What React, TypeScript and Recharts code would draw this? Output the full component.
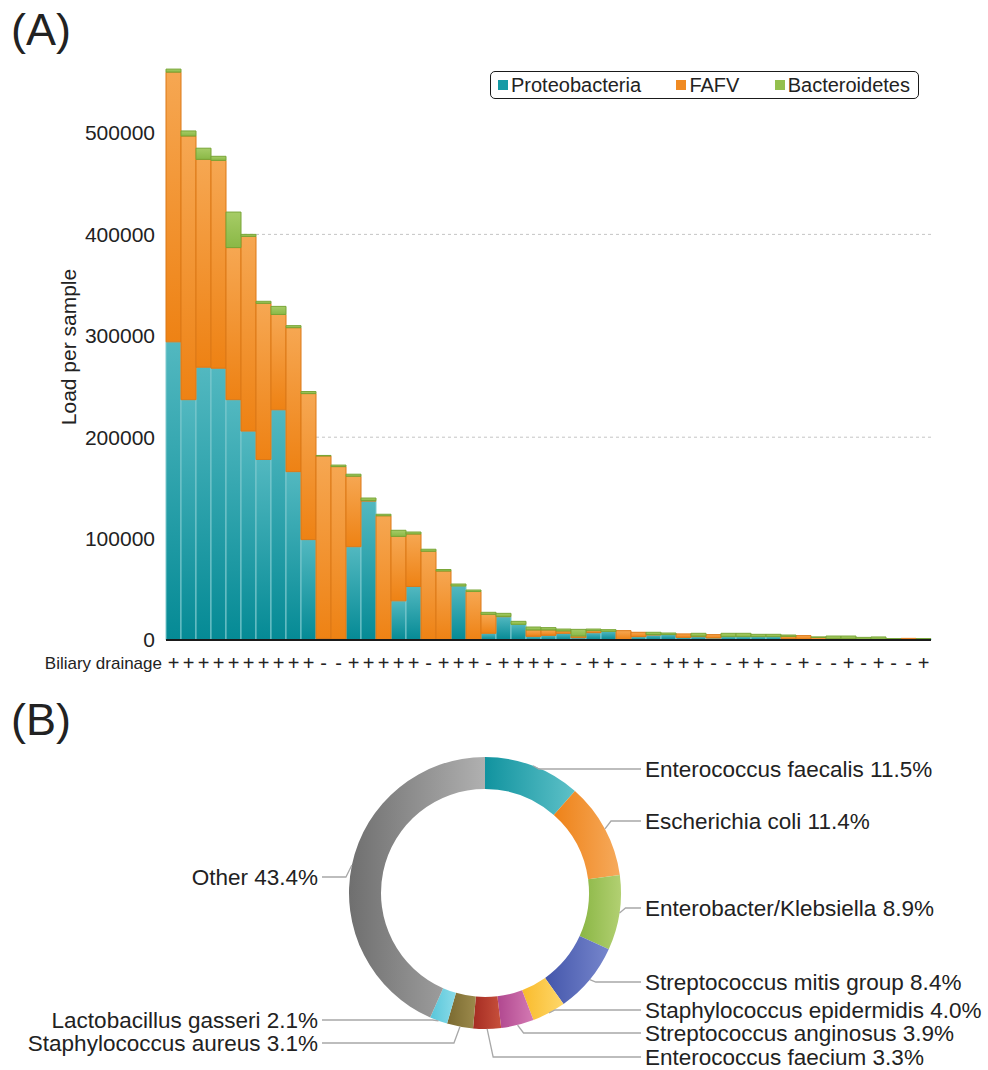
import React from 'react';
import { BarChart, Bar, XAxis, YAxis, CartesianGrid, Legend, Label, PieChart, Pie, Cell } from 'recharts';

const FONT = '"Liberation Sans", Arial, Helvetica, sans-serif';

// ---------- Panel A data ----------
const sampleIds = Array.from({ length: 51 }, (_, i) => i + 1);
const drainage = [
  '+', '+', '+', '+', '+', '+', '+', '+', '+', '+',
  '-', '-', '+', '+', '+', '+', '+', '-', '+', '+',
  '+', '-', '+', '+', '+', '+', '-', '-', '+', '+',
  '-', '-', '-', '+', '+', '+', '-', '-', '+', '+',
  '-', '-', '+', '-', '-', '+', '-', '+', '-', '-', '+',
];
const proteobacteria = [
  294000, 237000, 269000, 268000, 237000, 206000, 178000, 227000, 166000, 99000,
  1500, 1000, 92000, 137000, 500, 38600, 52800, 500, 500, 53200,
  300, 6600, 23000, 15400, 3600, 4600, 6600, 2300, 7200, 8500,
  300, 3300, 4900, 5300, 2600, 3300, 2000, 3300, 3300, 3300,
  3300, 1300, 800, 300, 900, 900, 800, 800, 1200, 200, 1200,
];
const fafv = [
  266000, 260000, 205000, 205000, 150000, 192000, 154000, 94000, 142000, 144000,
  180000, 170000, 69500, 500, 122000, 63600, 51700, 87000, 67500, 0,
  47500, 18700, 300, 0, 6300, 5300, 2300, 1600, 2000, 0,
  8900, 4300, 500, 0, 3400, 500, 3300, 0, 0, 0,
  0, 2300, 3500, 2300, 300, 300, 0, 0, 0, 1400, 0,
];
const bacteroidetes = [
  3000, 5000, 11000, 4000, 35000, 2000, 2000, 8000, 2000, 2000,
  500, 1500, 2000, 2500, 1500, 6000, 2000, 2000, 1500, 2000,
  1500, 2000, 3000, 3000, 2900, 2300, 1900, 6600, 1600, 1700,
  0, 0, 2200, 1600, 0, 2800, 0, 3300, 3300, 2300,
  2300, 1300, 0, 400, 2700, 2700, 1800, 2200, 100, 0, 100,
];
const yTicks = [0, 100000, 200000, 300000, 400000, 500000];
const gridValues = [200000, 400000];

const barData = sampleIds.map((id, i) => ({
  sample: id,
  Proteobacteria: proteobacteria[i],
  FAFV: fafv[i],
  Bacteroidetes: bacteroidetes[i],
}));

const seriesKeys = ['Proteobacteria', 'FAFV', 'Bacteroidetes'];
const seriesSolid = ['#159aa5', '#f08a22', '#94c04e'];
const seriesTop = ['#52b8c0', '#f6a752', '#a6cc66'];
const seriesBottom = ['#058a95', '#ee8214', '#8ab846'];
const seriesStroke = ['#7fc9ce', '#dc7816', '#78a536'];

// ---------- Panel B data ----------
const speciesNames = [
  'Enterococcus faecalis', 'Escherichia coli', 'Enterobacter/Klebsiella',
  'Streptococcus mitis group', 'Staphylococcus epidermidis', 'Streptococcus anginosus',
  'Enterococcus faecium', 'Staphylococcus aureus', 'Lactobacillus gasseri', 'Other',
];
const speciesShares = [11.5, 11.4, 8.9, 8.4, 4.0, 3.9, 3.3, 3.1, 2.1, 43.4];
const speciesDark = ['#11939f', '#ee8218', '#8ab644', '#4456ab', '#f9bb2c', '#b0478f', '#a52c22', '#7a6a30', '#58c6da', '#6f6f6f'];
const speciesLight = ['#5ec1c8', '#f6aa5c', '#b2d072', '#7686cc', '#fed76a', '#d47ab3', '#c7503c', '#9c8a4c', '#8adbe8', '#b0b0b0'];
const pieData = speciesNames.map((n, i) => ({ name: n, share: speciesShares[i] }));

// label layout (vertical offsets of the label rows from the ring centre)
const pieLabelDy = [-124, -72, 15, 89, 117, 140, 164, 150, 127, -16];

const RAD = Math.PI / 180;

const DrainageTick = (props: any) => {
  const { x, y, payload } = props;
  const sign = drainage[Number(payload.value) - 1];
  return (
    <text x={x} y={y + 23} textAnchor="middle" dominantBaseline="central" fontSize={20} fill="#222" fontFamily={FONT}>
      {sign}
    </text>
  );
};

const XLabel = (props: any) => {
  const { viewBox } = props;
  return (
    <text x={viewBox.x - 4} y={viewBox.y + 23} textAnchor="end" dominantBaseline="central" fontSize={17} fill="#222" fontFamily={FONT}>
      Biliary drainage
    </text>
  );
};

const YLabel = (props: any) => {
  const { viewBox } = props;
  const cx = viewBox.x + viewBox.width / 2 - 15;
  const cy = viewBox.y + viewBox.height / 2 - 4;
  return (
    <text x={cx} y={cy} transform={`rotate(-90 ${cx} ${cy})`} textAnchor="middle" dominantBaseline="central" fontSize={21} fill="#222" fontFamily={FONT}>
      Load per sample
    </text>
  );
};

const renderLegend = () => (
  <div
    style={{
      display: 'flex',
      alignItems: 'center',
      justifyContent: 'space-between',
      border: '1.5px solid #1a1a1a',
      borderRadius: 5,
      height: 28,
      padding: '0 8px 0 7px',
      boxSizing: 'border-box',
      fontSize: 20,
      fontFamily: FONT,
      color: '#222',
      background: '#fff',
    }}
  >
    {seriesKeys.map((k, i) => (
      <span key={k} style={{ display: 'flex', alignItems: 'center' }}>
        <span style={{ display: 'inline-block', width: 10, height: 10, background: seriesSolid[i], marginRight: 3 }} />
        {k}
      </span>
    ))}
  </div>
);

const renderPieLabel = (p: any) => {
  const { cx, cy, midAngle, outerRadius, index } = p;
  const ex = cx + outerRadius * Math.cos(-midAngle * RAD);
  const ey = cy + outerRadius * Math.sin(-midAngle * RAD);
  const right = ex >= cx;
  const ly = cy + pieLabelDy[index];
  const tx = right ? cx + 160 : cx - 167;
  const elbowX = ex + (right ? 6 : -6);
  const lineEnd = right ? tx - 4 : tx + 4;
  return (
    <g key={`lbl-${index}`}>
      <polyline points={`${ex},${ey} ${elbowX},${ly} ${lineEnd},${ly}`} fill="none" stroke="#a8a8a8" strokeWidth={1.3} />
      <text x={tx} y={ly} textAnchor={right ? 'start' : 'end'} dominantBaseline="central" fontSize={22.5} fill="#222" fontFamily={FONT}>
        {`${speciesNames[index]} ${speciesShares[index].toFixed(1)}%`}
      </text>
    </g>
  );
};

export default function App() {
  return (
    <div style={{ position: 'absolute', left: 0, top: 0, width: 988, height: 1070, background: '#fff', fontFamily: FONT }}>
      <div style={{ position: 'absolute', left: 11, top: 5, fontSize: 45, color: '#222', lineHeight: '50px' }}>(A)</div>
      <div style={{ position: 'absolute', left: 11, top: 695, fontSize: 45, color: '#222', lineHeight: '50px' }}>(B)</div>

      <div style={{ position: 'absolute', left: 0, top: 0 }}>
        <BarChart
          width={988}
          height={684}
          data={barData}
          margin={{ top: 62, right: 57, bottom: 0, left: 0 }}
          barCategoryGap={0}
        >
          <defs>
            {seriesKeys.map((k, i) => (
              <linearGradient key={k} id={`bg${i}`} x1="0" y1="0" x2="0" y2="1">
                <stop offset="0%" stopColor={seriesTop[i]} />
                <stop offset="100%" stopColor={seriesBottom[i]} />
              </linearGradient>
            ))}
          </defs>
          <CartesianGrid vertical={false} horizontalValues={gridValues} stroke="#c4c4c4" strokeDasharray="3 3" />
          <XAxis
            dataKey="sample"
            interval={0}
            tickLine={false}
            tickSize={0}
            tickMargin={0}
            height={44}
            axisLine={{ stroke: '#1a1a1a', strokeWidth: 2 }}
            tick={<DrainageTick />}
          >
            <Label content={<XLabel />} />
          </XAxis>
          <YAxis
            width={166}
            domain={[0, 570000]}
            ticks={yTicks}
            axisLine={false}
            tickLine={false}
            tickSize={0}
            tickMargin={11}
            tick={{ fontSize: 21, fill: '#222', fontFamily: FONT }}
          >
            <Label content={<YLabel />} />
          </YAxis>
          <Legend
            layout="horizontal"
            verticalAlign="middle"
            align="center"
            content={renderLegend}
            wrapperStyle={{ top: 71, left: 490, width: 429 }}
          />
          {seriesKeys.map((k, i) => (
            <Bar
              key={k}
              dataKey={k}
              stackId="load"
              fill={`url(#bg${i})`}
              stroke={seriesStroke[i]}
              strokeWidth={1}
              isAnimationActive={false}
            />
          ))}
        </BarChart>
      </div>

      <div style={{ position: 'absolute', left: 0, top: 680 }}>
        <PieChart width={988} height={390} margin={{ top: 0, right: 0, bottom: 0, left: 0 }}>
          <defs>
            {speciesNames.map((n, i) => (
              <linearGradient key={n} id={`pg${i}`} x1="0" y1="0" x2="1" y2="0">
                <stop offset="0%" stopColor={speciesDark[i]} />
                <stop offset="100%" stopColor={speciesLight[i]} />
              </linearGradient>
            ))}
          </defs>
          <Pie
            data={pieData}
            dataKey="share"
            nameKey="name"
            cx={485}
            cy={213}
            innerRadius={104}
            outerRadius={136}
            startAngle={90}
            endAngle={-270}
            stroke="none"
            label={renderPieLabel}
            labelLine={false}
            isAnimationActive={false}
          >
            {pieData.map((d, i) => (
              <Cell key={d.name} fill={`url(#pg${i})`} />
            ))}
          </Pie>
        </PieChart>
      </div>
    </div>
  );
}
